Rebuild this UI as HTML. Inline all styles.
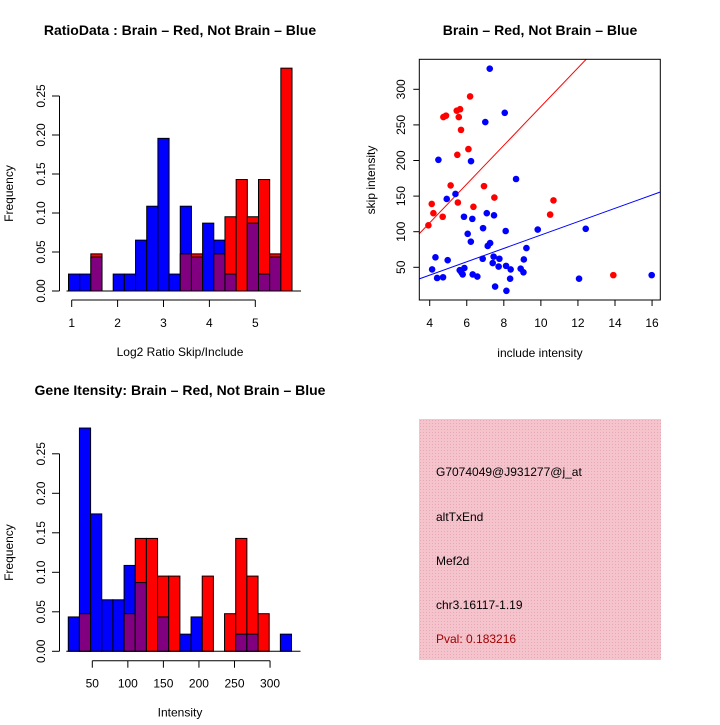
<!DOCTYPE html>
<html><head><meta charset="utf-8"><style>
body{margin:0;background:#fff}
svg text{font-family:"Liberation Sans",sans-serif;font-size:12px}
.t{font-weight:bold;font-size:14px}
</style></head><body>
<svg id="c" width="720" height="720">
<defs><pattern id="pk" width="3" height="3" patternUnits="userSpaceOnUse"><rect width="3" height="3" fill="#f5c3cc"/><rect width="1" height="1" fill="#e9a8b6"/></pattern></defs>
<text class="t" x="180" y="35" text-anchor="middle">RatioData : Brain – Red, Not Brain – Blue</text>
<text class="t" x="540" y="35" text-anchor="middle">Brain – Red, Not Brain – Blue</text>
<text class="t" x="180" y="395" text-anchor="middle">Gene Itensity: Brain – Red, Not Brain – Blue</text>
<g id="h1"></g>
<g id="h2"></g>
<g id="sc"></g>
<g>
<rect x="419" y="419" width="242" height="241" fill="url(#pk)"/>
<text x="436" y="476">G7074049@J931277@j_at</text>
<text x="436" y="521">altTxEnd</text>
<text x="436" y="565">Mef2d</text>
<text x="436" y="609">chr3.16117-1.19</text>
<text x="436" y="643" fill="#a00000">Pval: 0.183216</text>
</g>
</svg>
<script>
const ratioBlue=[0.0217,0.0217,0.0435,0,0.0217,0.0217,0.0652,0.1087,0.1957,0.0217,0.1087,0.0435,0.087,0.0652,0.0217,0,0.087,0.0217,0.0435,0];
const ratioRed=[0,0,0.0476,0,0,0,0,0,0,0,0.0476,0.0476,0,0.0476,0.0952,0.1429,0.0952,0.1429,0.0476,0.2857];
const ratioStart=0.93, ratioWidth=0.2435;
const ratioTicks=[1,2,3,4,5];
const intBlue=[0.0435,0.2826,0.1739,0.0652,0.0652,0.1087,0.087,0,0.0435,0,0.0217,0.0435,0,0,0,0.0217,0.0217,0,0,0.0217];
const intRed=[0,0.0476,0,0,0,0.0476,0.1429,0.1429,0.0952,0.0952,0,0,0.0952,0,0.0476,0.1429,0.0952,0.0476,0,0];
const intStart=16.2, intWidth=15.7;
const intTicks=[50,100,150,200,250,300];
const freqTicks=["0.00","0.05","0.10","0.15","0.20","0.25"];
const redX=[3.93,4.11,4.2,4.7,5.13,4.74,4.88,5.46,5.64,5.57,5.69,6.18,6.09,5.49,5.52,6.36,6.93,7.49,10.5,10.68,13.91];
const redY=[109,139,126,121,165,261,263,270,272,261,243,290,216,208,141,135,164,148,124,144,39];
const blueX=[7.24,8.05,7.0,4.47,6.23,8.66,5.39,4.92,7.08,7.47,5.85,6.3,6.88,8.1,9.83,12.42,6.05,6.22,7.26,7.13,9.22,4.31,7.45,7.76,6.86,9.08,4.97,7.4,7.72,8.12,4.13,5.87,5.62,8.37,8.91,9.06,5.71,5.78,6.32,6.57,4.4,4.72,8.34,12.06,15.98,7.53,8.14];
const blueY=[329,267,254,201,199,174,153,146,126,123,121,118,105,101,103,104,97,86,84,80,77,64,65,62,62,61,60,56,51,52,47,49,46,47,48,43,43,40,40,37,35,36,34,34,39,23,17];
const redFit=[3.7,27.2], blueFit=[1.5,9.38];
const sxTicks=[4,6,8,10,12,14,16], syTicks=[50,100,150,200,250,300];
const NS="http://www.w3.org/2000/svg";
function mk(p,tag,a){const e=document.createElementNS(NS,tag);for(const k in a)e.setAttribute(k,a[k]);p.appendChild(e);return e;}
function hist(g,blue,red,start,w,xs,base,ppu,ticks,xlab,axisY){
  const y=v=>base-v*ppu;
  for(let i=0;i<blue.length;i++){
    const x0=xs(start+i*w),x1=xs(start+(i+1)*w);
    const b=blue[i],r=red[i],mx=Math.max(b,r),mn=Math.min(b,r);
    if(mx>0){const e=mk(g,'rect',{x:x0,y:y(mx),width:x1-x0,height:base-y(mx),fill:b>=r?'#0000ff':'#ff0000',stroke:'#000','stroke-width':1});
      }
    if(mn>0){const e=mk(g,'rect',{x:x0,y:y(mn),width:x1-x0,height:base-y(mn),fill:'#800080',stroke:'#000','stroke-width':1});
      }
  }
  mk(g,'line',{x1:xs(start)-2,x2:xs(start+blue.length*w)+9,y1:base,y2:base,stroke:'#000'});
  mk(g,'line',{x1:59.5,x2:59.5,y1:base,y2:y(0.25),stroke:'#000'});
  freqTicks.forEach((t,i)=>{const yy=y(i*0.05);mk(g,'line',{x1:52,x2:59.5,y1:yy,y2:yy,stroke:'#000'});
    const tx=mk(g,'text',{x:0,y:0,transform:`translate(45,${yy}) rotate(-90)`,'text-anchor':'middle'});tx.textContent=t;});
  mk(g,'line',{x1:xs(ticks[0]),x2:xs(ticks[ticks.length-1]),y1:axisY,y2:axisY,stroke:'#000'});
  ticks.forEach(t=>{mk(g,'line',{x1:xs(t),x2:xs(t),y1:axisY,y2:axisY+7,stroke:'#000'});
    const tx=mk(g,'text',{x:xs(t),y:axisY+27,'text-anchor':'middle'});tx.textContent=t;});
  const xl=mk(g,'text',{x:180,y:axisY+56,'text-anchor':'middle'});xl.textContent=xlab;
  const yl=mk(g,'text',{x:0,y:0,transform:`translate(13,${(base+y(0.25))/2}) rotate(-90)`,'text-anchor':'middle'});yl.textContent='Frequency';
}
hist(document.getElementById('h1'),ratioBlue,ratioRed,ratioStart,ratioWidth,v=>71.7+(v-1)*45.9,291,780,ratioTicks,'Log2 Ratio Skip/Include',300);
hist(document.getElementById('h2'),intBlue,intRed,intStart,intWidth,v=>92.3+(v-50)*0.711,651.3,790,intTicks,'Intensity',660.7);
// scatter
const g=document.getElementById('sc');
const X=v=>429.7+(v-4)*18.53, Y=v=>267.3-(v-50)*0.712;
const L=419.3,R=660.3,T=59.3,B=300;
const cp=mk(document.querySelector('defs'),'clipPath',{id:'cl'});mk(cp,'rect',{x:L,y:T,width:R-L,height:B-T});
[[redFit,'#ff0000','red-fit-line'],[blueFit,'#0000ff','blue-fit-line']].forEach(([f,c,n])=>{
  const x0=(L-429.7)/18.53+4,x1=(R-429.7)/18.53+4;
  const e=mk(g,'line',{x1:X(x0),y1:Y(f[0]+f[1]*x0),x2:X(x1),y2:Y(f[0]+f[1]*x1),stroke:c,'clip-path':'url(#cl)'});
  });
blueX.forEach((v,i)=>{const e=mk(g,'circle',{cx:X(v),cy:Y(blueY[i]),r:3.3,fill:'#0000ff'});
  });
redX.forEach((v,i)=>{const e=mk(g,'circle',{cx:X(v),cy:Y(redY[i]),r:3.3,fill:'#ff0000'});
  });
mk(g,'rect',{x:L,y:T,width:R-L,height:B-T,fill:'none',stroke:'#000'});
sxTicks.forEach(t=>{mk(g,'line',{x1:X(t),x2:X(t),y1:B,y2:B+6,stroke:'#000'});
  const tx=mk(g,'text',{x:X(t),y:B+27,'text-anchor':'middle'});tx.textContent=t;});
syTicks.forEach(t=>{mk(g,'line',{x1:L-6,x2:L,y1:Y(t),y2:Y(t),stroke:'#000'});
  const tx=mk(g,'text',{x:0,y:0,transform:`translate(405,${Y(t)}) rotate(-90)`,'text-anchor':'middle'});tx.textContent=t;});
const xl=mk(g,'text',{x:540,y:357,'text-anchor':'middle'});xl.textContent='include intensity';
const yl=mk(g,'text',{x:0,y:0,transform:`translate(375,180) rotate(-90)`,'text-anchor':'middle'});yl.textContent='skip intensity';
</script>
</body></html>
